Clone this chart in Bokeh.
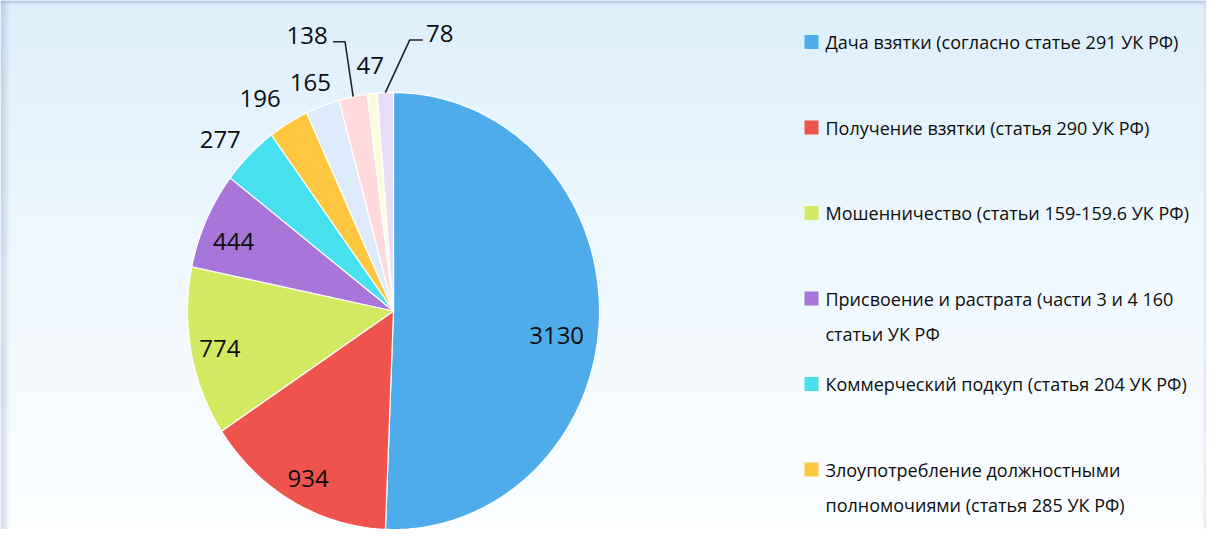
import numpy as np
from bokeh.plotting import figure
from bokeh.models import Range1d
from bokeh.core.properties import value
from bokeh.embed import file_html
from bokeh.resources import INLINE

# ---------------- data ----------------
values = [3130, 934, 774, 444, 277, 196, 165, 138, 47, 78]
colors = ["#4facea", "#ef534e", "#d4e962", "#a876d8", "#47e0ef",
          "#ffc73f", "#dceafb", "#ffd9dc", "#fbfdda", "#ebdcf5"]
legend_labels = [
    "Дача взятки (согласно статье 291 УК РФ)",
    "Получение взятки (статья 290 УК РФ)",
    "Мошенничество (статьи 159-159.6 УК РФ)",
    "Присвоение и растрата (части 3 и 4 160\nстатьи УК РФ",
    "Коммерческий подкуп (статья 204 УК РФ)",
    "Злоупотребление должностными\nполномочиями (статья 285 УК РФ)",
]

# ---------------- layout (styling only) ----------------
W, H = 1206, 529
CX, CY = 393.0, 310.5        # pie centre (px inside figure)
RX, RY = 206.0, 218.5        # pie radii (slightly elliptical like the source)
label_r = [0.80, 0.87, 0.86, 0.84, 1.15, 1.17, 1.12, 1.33, 1.13, 1.29]
label_dt = [7, -1, -0.6, -2.2, -2.6, -3, -1, -7.1, 0.2, 12.3]
leader = [None, None, None, None, None, None, None, "left", None, "right"]

p = figure(width=W, height=H, x_range=Range1d(0, W), y_range=Range1d(H, 0),
           output_backend="svg", toolbar_location=None, min_border=0,
           x_axis_type=None, y_axis_type=None)
p.outline_line_color = None
p.background_fill_color = "white"
p.border_fill_color = "white"

# ---------------- background gradient ----------------
n = 176
edges = np.linspace(0, H, n + 1)
t = (edges[:-1] + edges[1:]) / 2 / H
top_c = np.array([220, 239, 251])
mid_c = np.array([239, 248, 254])
bot_c = np.array([251, 253, 255])
bg_cols = []
for tt in t:
    if tt < 0.5:
        c = top_c + (mid_c - top_c) * (tt / 0.5)
    else:
        c = mid_c + (bot_c - mid_c) * ((tt - 0.5) / 0.5)
    bg_cols.append("#%02x%02x%02x" % tuple(int(round(v)) for v in c))
p.quad(left=0, right=W, top=edges[:-1], bottom=edges[1:] + 0.5,
       fill_color=bg_cols, line_color=None)

# frame shadows
sw = 10
p.quad(left=np.arange(sw), right=np.arange(sw) + 1, top=0, bottom=H,
       fill_color="#8fa6cc", fill_alpha=np.linspace(0.45, 0.0, sw), line_color=None)
sh = 5
p.quad(left=0, right=W, top=np.arange(sh), bottom=np.arange(sh) + 1,
       fill_color="#7f9cc8", fill_alpha=np.linspace(0.5, 0.0, sh), line_color=None)
p.quad(left=W - 3, right=W, top=0, bottom=H, fill_color="#c8d2e2",
       fill_alpha=0.35, line_color=None)

# ---------------- pie slices ----------------
total = float(sum(values))
cum = np.concatenate([[0.0], np.cumsum(values)]) / total * 360.0
xs, ys, mids = [], [], []
for i in range(len(values)):
    a0, a1 = cum[i], cum[i + 1]
    k = max(4, int((a1 - a0) / 1.0) + 2)
    th = np.radians(np.linspace(a0, a1, k))
    px = np.concatenate([[CX], CX + RX * np.sin(th)])
    py = np.concatenate([[CY], CY - RY * np.cos(th)])
    xs.append(list(px))
    ys.append(list(py))
    mids.append((a0 + a1) / 2)
p.patches(xs, ys, fill_color=colors, line_color="white", line_width=1.2)

# ---------------- data labels ----------------
lx, ly = [], []
for i, m in enumerate(mids):
    a = np.radians(m + label_dt[i])
    lx.append(CX + RX * label_r[i] * np.sin(a))
    ly.append(CY - RY * label_r[i] * np.cos(a))
p.text(x=lx, y=ly, text=[str(v) for v in values], text_align="center",
       text_baseline="middle", text_font=value("Open Sans"),
       text_font_size="24px", text_color="#0d0d0d")

for i, side in enumerate(leader):
    if side is None:
        continue
    a = np.radians(mids[i])
    rx0 = CX + RX * np.sin(a)
    ry0 = CY - RY * np.cos(a)
    yy = ly[i] + 6.5
    if side == "left":
        pts_x = [lx[i] + 26, lx[i] + 38, rx0]
    else:
        pts_x = [lx[i] - 17, lx[i] - 30, rx0]
    pts_y = [yy, yy, ry0]
    p.line(pts_x, pts_y, line_color="#222222", line_width=1.6)

# ---------------- legend ----------------
LEG_X, LEG_Y0, LEG_DY, LINE_DY = 811.0, 41.5, 85.5, 35.0
sq_x, sq_y, tx, ty, tt_ = [], [], [], [], []
for i, lab in enumerate(legend_labels):
    y0 = LEG_Y0 + LEG_DY * i
    sq_x.append(LEG_X)
    sq_y.append(y0)
    for j, line in enumerate(lab.split("\n")):
        tx.append(LEG_X + 14)
        ty.append(y0 + LINE_DY * j)
        tt_.append(line)
p.scatter(sq_x, sq_y, marker="square", size=14, fill_color=colors[:len(legend_labels)],
          line_color=None)
p.text(x=tx, y=ty, text=tt_, text_align="left", text_baseline="middle",
       text_font=value("Open Sans"), text_font_size="18px",
       text_color="#0d0d0d")

open("out.html", "w").write(file_html(p, INLINE))
